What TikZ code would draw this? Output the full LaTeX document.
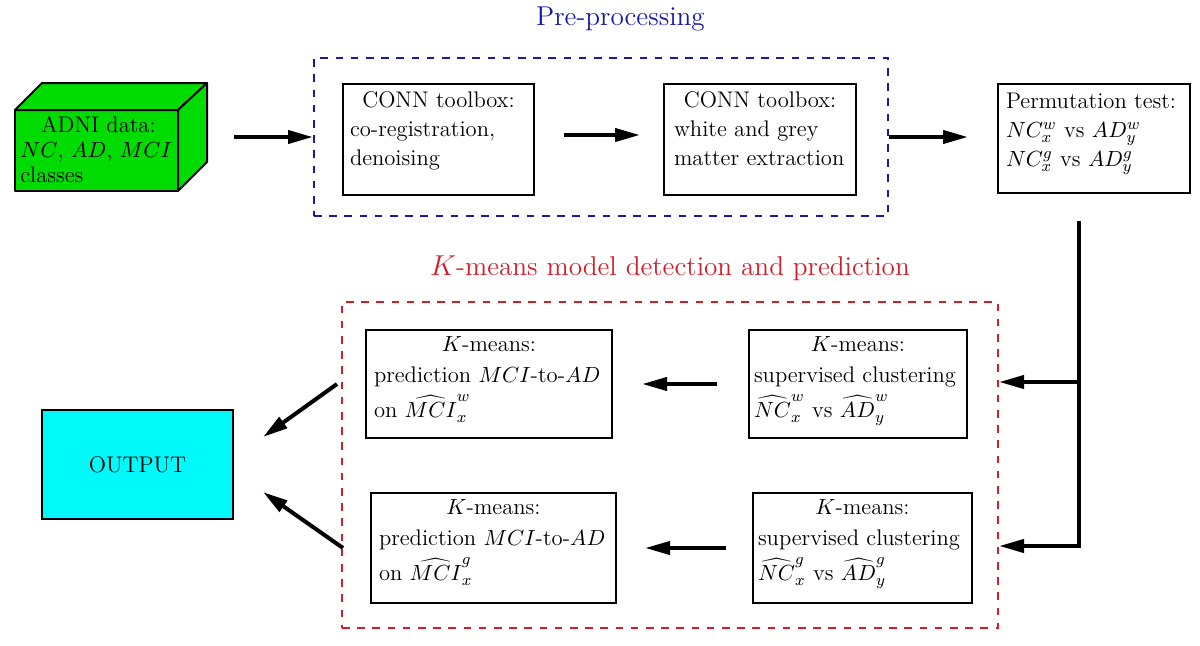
\documentclass[tikz,border=0pt]{standalone}
\usetikzlibrary{arrows.meta}
\definecolor{ppblue}{RGB}{25,25,165}
\definecolor{kmred}{RGB}{210,30,40}
\definecolor{cubegreen}{RGB}{0,220,0}
\definecolor{outcyan}{RGB}{0,250,250}
\newcommand{\boxtext}[4]{\parbox[c][#2][t]{#1}{\rule{0pt}{#3}#4}}
\begin{document}
\begin{tikzpicture}[x=0.5pt,y=-0.5pt,
  bodyfont/.style={font=\fontsize{11.3}{14.5}\selectfont},
  box/.style={draw, line width=1pt, inner ysep=0pt, anchor=north west, bodyfont},
  arr/.style={line width=2pt, -{Triangle[length=12.5pt,width=6.5pt]}},
  title/.style={anchor=base, font=\fontsize{13.6}{16}\selectfont},
  group/.style={line width=1pt, dash pattern=on 3.8pt off 3.8pt, minimum width=#1},
  cubeface/.style={draw, fill=cubegreen, line width=1pt, line join=round}]
\useasboundingbox (0,0) rectangle (1200,645);

% titles
\node[title, text=ppblue] (tpre) at (620.5,25) {Pre-processing};
\node[title, text=kmred] (tkm) at (670,275) {$K$-means model detection and prediction};

% group frames
\node[draw=ppblue, group=287pt, minimum height=79pt] (pre) at (601,137) {};
\node[draw=kmred, group=328pt, minimum height=163pt] (km) at (670,465) {};

% ADNI cube
\node[cubeface, minimum width=81.5pt, minimum height=40.5pt, inner sep=0pt] (adni) at (96.5,150.5) {};
\draw[cubeface] (15,110) -- (42,83) -- (207,83) -- (178,110) -- cycle;
\draw[cubeface] (178,110) -- (207,83) -- (207,162) -- (178,191) -- cycle;
\node[anchor=base west, inner sep=0pt, font=\fontsize{11.3}{12.5}\selectfont] (adnitext) at (20,132)
  {\parbox[t]{78pt}{\makebox[\linewidth]{ADNI data:}\\ $NC$, $AD$, $MCI$\\ classes}};

% pre-processing boxes
\node[box, inner xsep=3.5pt] (c1) at (342,83)
  {\boxtext{88.5pt}{55.5pt}{11.5pt}{\makebox[\linewidth]{CONN toolbox:}\\ co-registration,\\ denoising}};
\node[box, inner xsep=5pt] (c2) at (663,83)
  {\boxtext{86pt}{55.5pt}{11.5pt}{\makebox[\linewidth]{CONN toolbox:}\\ white and grey\\ matter extraction}};
\node[box, inner xsep=4pt] (perm) at (997,83)
  {\boxtext{88pt}{54.5pt}{12pt}{Permutation test:\\ $NC^w_x$ vs $AD^w_y$\\ $NC^g_x$ vs $AD^g_y$}};

% K-means boxes
\node[box, inner xsep=2.5pt] (kr1) at (748,329)
  {\boxtext{104pt}{54pt}{10.5pt}{\makebox[\linewidth]{$K$-means:}\\[1pt] supervised clustering\\[3pt] $\widehat{NC}^w_x$ vs $\widehat{AD}^w_y$}};
\node[box, inner xsep=4pt] (kl1) at (365,329)
  {\boxtext{115pt}{54pt}{10.5pt}{\makebox[\linewidth]{$K$-means:}\\[1pt] prediction $MCI$-to-$AD$\\[3pt] on $\widehat{MCI}^w_x$}};
\node[box, inner xsep=2.5pt] (kr2) at (752,492)
  {\boxtext{104.5pt}{55pt}{10.5pt}{\makebox[\linewidth]{$K$-means:}\\[1pt] supervised clustering\\[3pt] $\widehat{NC}^g_x$ vs $\widehat{AD}^g_y$}};
\node[box, inner xsep=4pt] (kl2) at (370,492)
  {\boxtext{114.5pt}{55pt}{10.5pt}{\makebox[\linewidth]{$K$-means:}\\[1pt] prediction $MCI$-to-$AD$\\[3pt] on $\widehat{MCI}^g_x$}};

% output
\node[draw, line width=1pt, fill=outcyan, minimum width=95.5pt, minimum height=54.5pt, bodyfont] (out) at (137.5,464.5) {OUTPUT};

% junction points of the right-hand connector
\coordinate (j1) at (1078,382);
\coordinate (j2) at (1078,546);

% connectors
\draw[arr] ([shift={(55,-13.5)}]adni.east) -- (pre.west);
\draw[arr] ([shift={(29,-4.5)}]c1.east) -- ([shift={(-23,-4.5)}]c2.west);
\draw[arr] (pre.east) -- ([xshift=-14.5pt]perm.west |- pre.east);
\draw[arr, line join=miter] ([shift={(-15,27)}]perm.south) |- (km.east |- j2);
\draw[arr] (j1) -- (km.east |- j1);
\draw[arr] ([xshift=-15.5pt]kr1.west) -- ([xshift=14.5pt]kl1.east |- kr1.west);
\draw[arr] ([xshift=-13pt]kr2.west) -- ([xshift=14pt]kl2.east |- kr2.west);
\draw[arr] ([xshift=-14pt]kl1.west) -- ([shift={(29,-27.5)}]out.east);
\draw[arr] ([xshift=-13.5pt]kl2.west) -- ([shift={(29,27.5)}]out.east);
\end{tikzpicture}
\end{document}
